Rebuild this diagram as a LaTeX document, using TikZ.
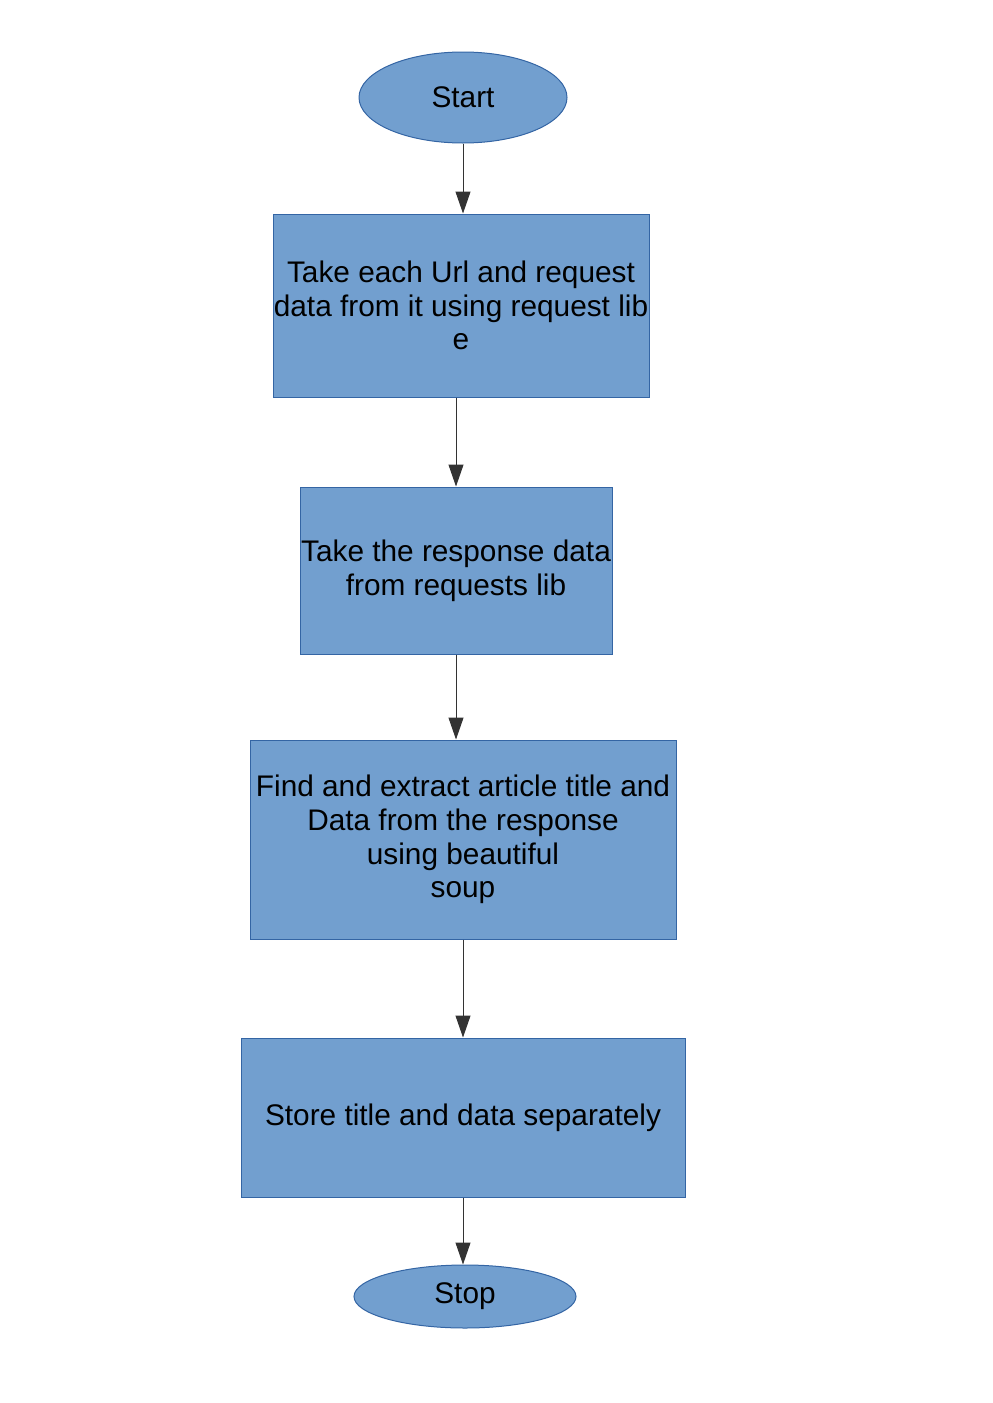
\documentclass[tikz,border=0pt]{standalone}
\usepackage{fontspec}
\setmainfont{Liberation Sans}
\usetikzlibrary{shapes.geometric}
\usetikzlibrary{arrows.meta}
\definecolor{boxfill}{HTML}{729FCF}
\definecolor{boxline}{HTML}{3465A4}

\begin{document}
\begin{tikzpicture}[x=0.5pt, y=-0.5pt,
        every node/.style={font=\fontsize{14.9}{16.9}\selectfont, align=center, inner sep=0pt},
        terminal/.style={ellipse, draw=boxline, fill=boxfill, line width=0.5pt},
        process/.style={rectangle, draw=boxline, fill=boxfill, line width=0.5pt},
        flow/.style={-{Triangle[length=11pt, width=7.5pt]}, draw=black!80, line width=0.5pt}]
        \useasboundingbox (0,0) rectangle (992,1403);
        \node[terminal, minimum width=104pt, minimum height=45.5pt] (start) at (463,97.5) {Start};
        \node[process, minimum width=188pt, minimum height=91.5pt] (take) at (461,305.5)
            {Take each Url and request\\data from it using request lib\\e};
        \node[process, minimum width=156pt, minimum height=83.5pt] (resp) at (456,570.5)
            {Take the response data\\from requests lib};
        \node[process, minimum width=213pt, minimum height=99.5pt] (extract) at (463,839.5)
            {Find and extract article title and\\Data from the response\\using beautiful\\soup};
        \node[process, minimum width=222pt, minimum height=79.5pt] (store) at (463,1117.5)
            {Store title and data separately};
        \node[terminal, minimum width=111pt, minimum height=31.5pt] (stop) at (465,1296.5) {Stop};
        \draw[flow] (start) -- (start |- take.north);
        \draw[flow] (resp.north |- take.south) -- (resp.north);
        \draw[flow] (resp) -- (resp |- extract.north);
        \draw[flow] (extract) -- (store);
        \draw[flow] (store) -- (store |- stop.north);
    \end{tikzpicture}
\end{document}
